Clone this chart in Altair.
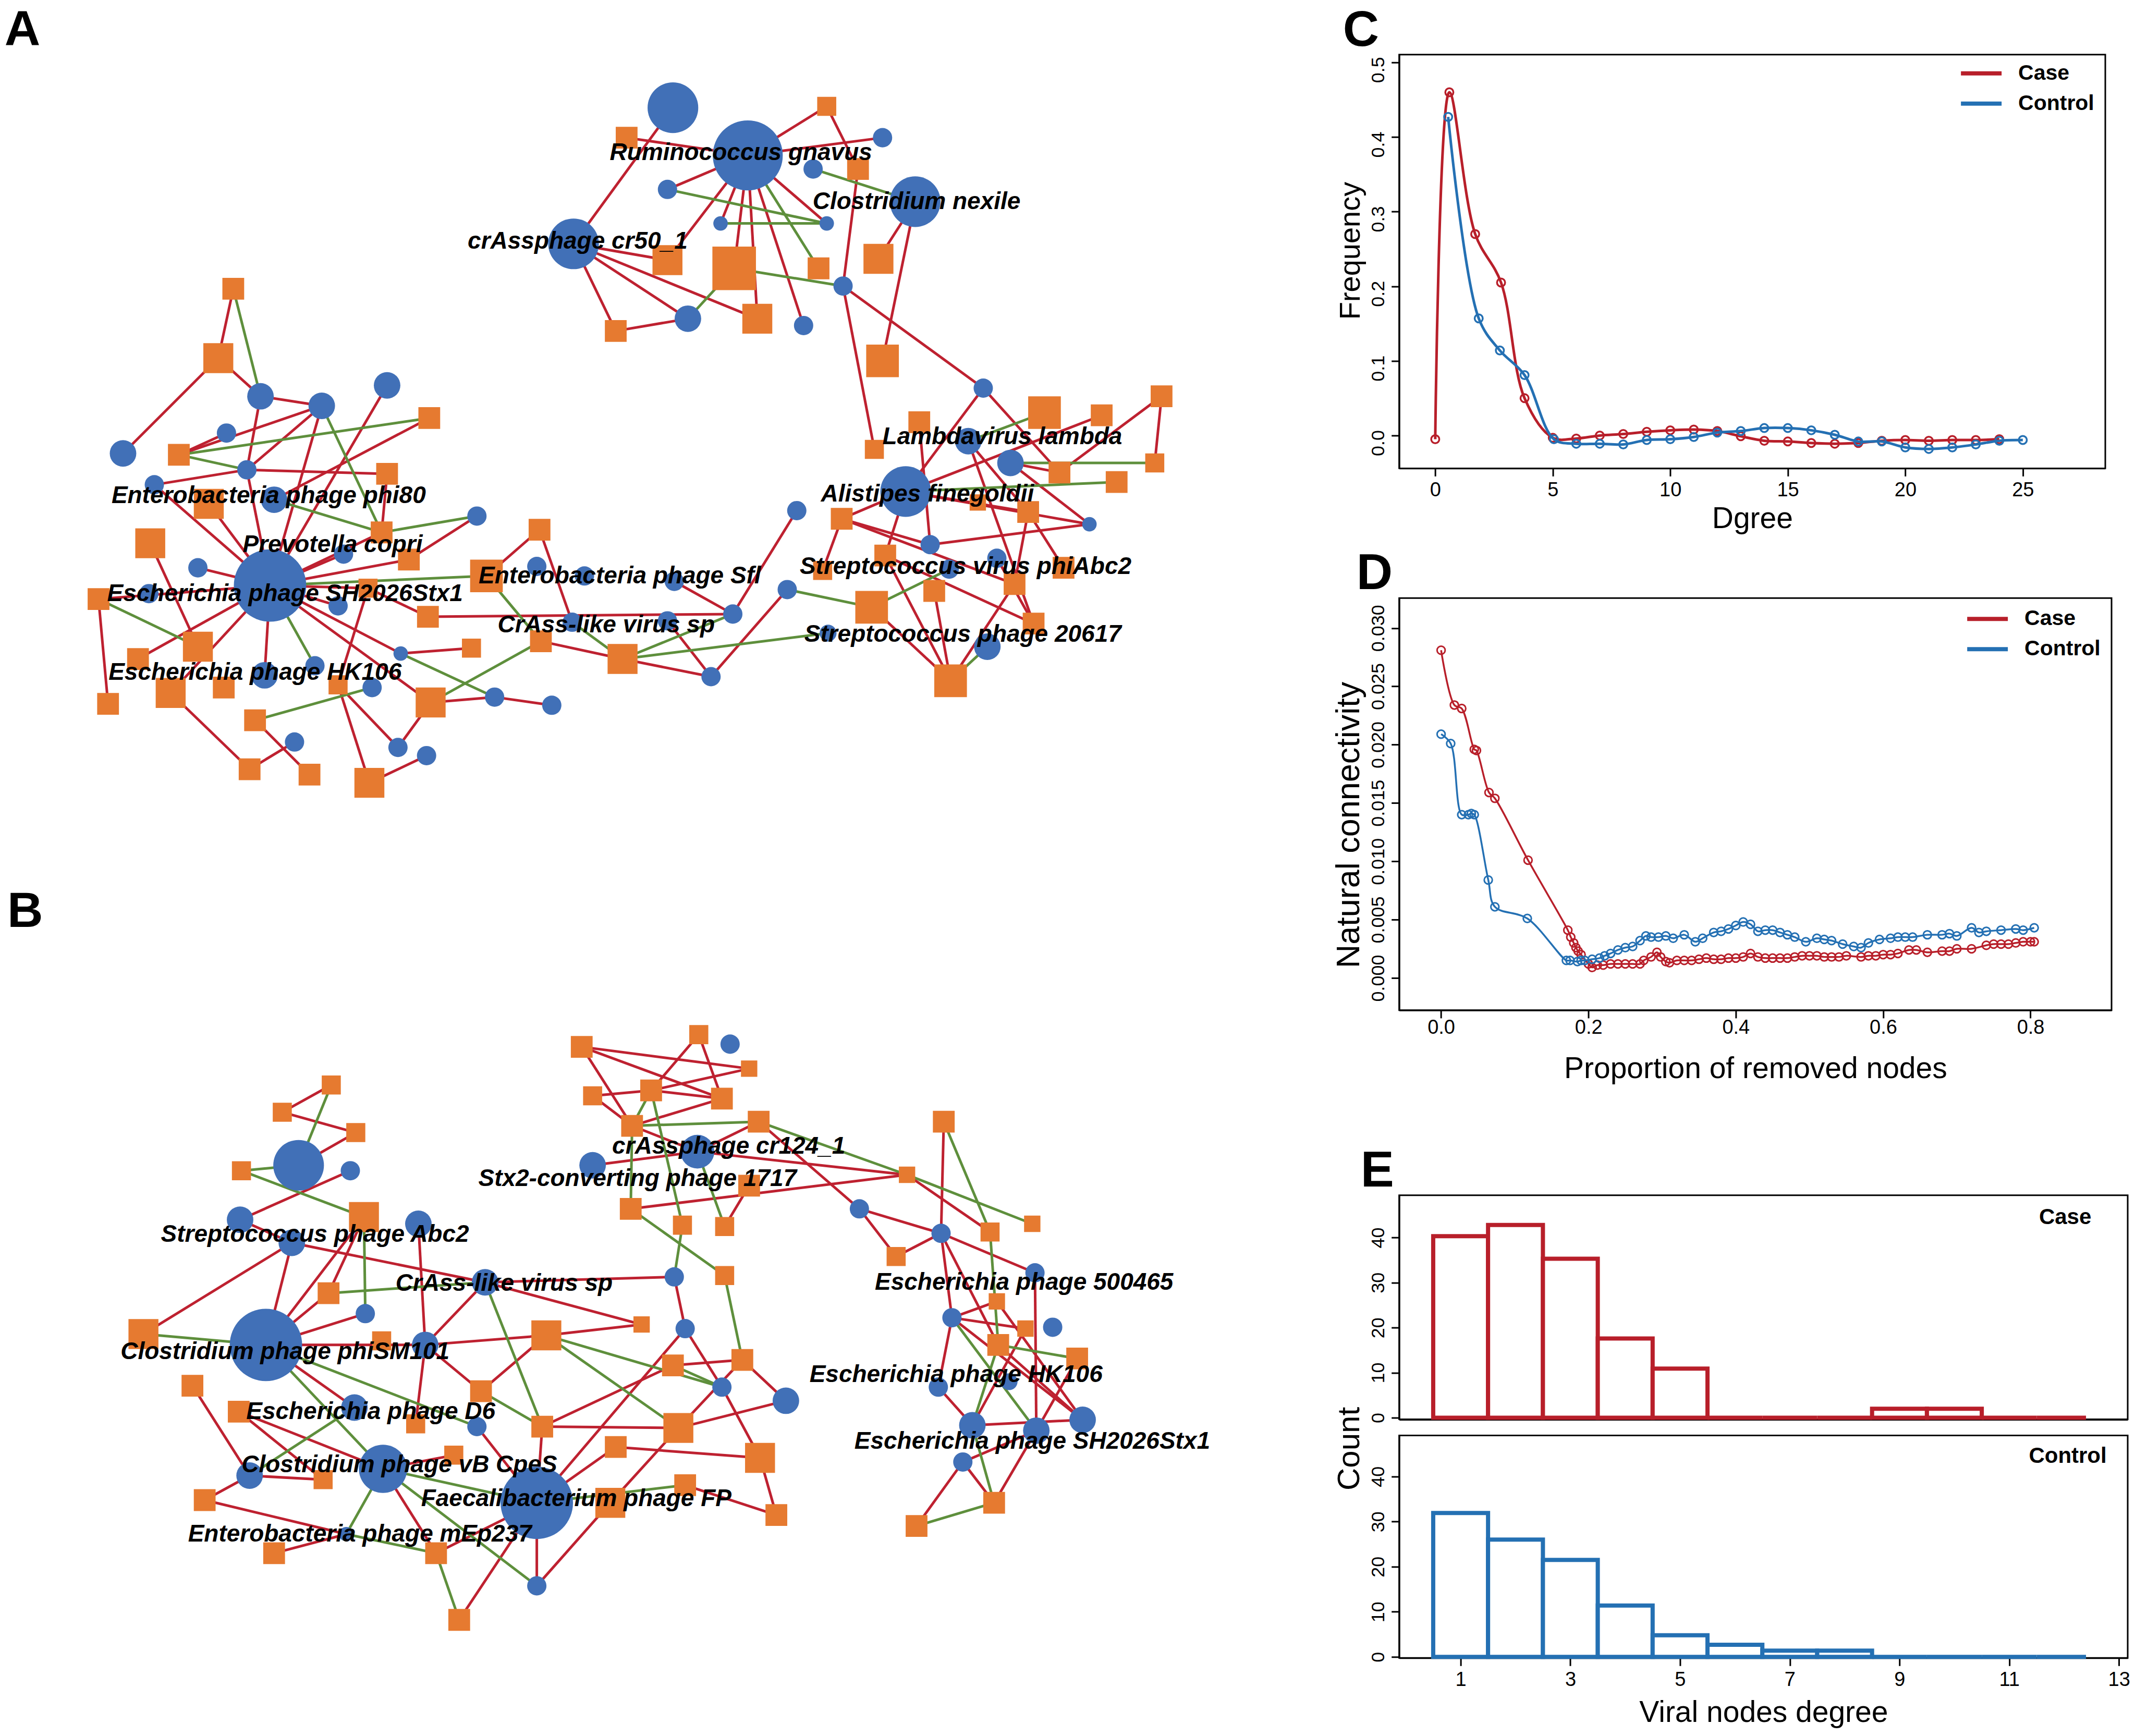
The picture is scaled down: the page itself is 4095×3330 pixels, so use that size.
import altair as alt
import pandas as pd

# ---------- network nodes: (id, x, y, weight) ----------
blue_nodes = [
 ("a1",494,80,21),("a2",549,115,29),("a3",648,102,8),("a4",490,140,8),("a5",597,125,8),("a6",672,149,21),
 ("a7",529,165,6),("a8",607,165,6),("a9",421,180,21),("a10",619,211,8),("a11",505,235,11),("a12",590,240,8),
 ("r1",722,286,8),("r2",711,325,11),("r3",742,341,11),("r4",665,362,21),("r5",800,386,6),("r6",683,401,8),
 ("r7",732,411,8),("r8",697,419,8),("r9",578,434,8),("r10",585,376,8),("r11",608,466,7),("r12",725,476,11),
 ("r13",538,452,8),("r14",522,498,8),
 ("c1",394,417,8),("c2",429,424,8),("c3",495,428,8),("c4",420,458,8),("c5",490,457,8),("c6",294,481,6),("c7",363,513,8),("c8",405,519,8),
 ("l1",284,284,11),("l2",191,292,11),("l3",236,299,11),("l4",166,319,8),("l5",90,334,11),("l6",181,346,8),("l7",113,357,8),
 ("l8",201,368,11),("l9",350,380,8),("l10",252,408,8),("l11",145,418,8),("l12",198,431,30),("l13",109,437,8),("l14",248,446,8),
 ("l15",231,490,8),("l16",194,497,11),("l17",273,506,8),("l18",216,546,8),("l19",292,550,8),("l20",313,556,8),
 ("b1",536,768,8),("b2",512,847,14),("b3",435,857,11),("b4",219,857,21),("b5",257,861,8),("b6",176,897,11),("b7",307,900,11),
 ("b8",214,914,11),("b9",631,889,8),("b10",691,907,8),("b11",760,936,8),("b12",356,943,11),("b13",495,939,8),("b14",268,966,8),
 ("b15",503,977,8),("b16",699,969,8),("b17",773,976,8),("b18",195,989,30),("b19",312,989,11),("b20",530,1020,8),("b21",577,1030,11),
 ("b22",260,1035,11),("b23",350,1049,8),("b24",689,1020,8),("b25",741,1016,7),("b26",714,1048,11),("b27",761,1052,11),("b28",795,1044,11),
 ("b29",707,1075,8),("b30",281,1080,20),("b31",183,1085,11),("b32",394,1105,30),("b33",254,1128,6),("b34",394,1166,8),
]
orange_nodes = [
 ("o1",607,79,7),("o2",460,102,8),("o3",630,125,8),("o4",490,192,11),("o5",539,198,16),("o6",601,198,8),("o7",645,191,11),
 ("o8",452,244,8),("o9",556,235,11),("o10",648,266,12),
 ("q1",767,304,12),("q2",809,306,8),("q3",853,292,8),("q4",675,311,8),("q5",642,331,7),("q6",848,341,7),("q7",820,355,8),
 ("q8",778,348,8),("q9",755,377,8),("q10",618,382,8),("q11",718,370,6),("q12",650,409,8),("q13",604,420,7),("q14",745,430,8),
 ("q15",781,418,8),("q16",640,447,12),("q17",686,435,8),("q18",759,459,8),("q19",698,501,12),("q20",457,485,11),("q21",397,472,8),
 ("q22",396,390,8),("q23",357,424,12),("q24",314,454,8),("q25",346,477,7),("q26",316,517,11),
 ("s1",171,213,8),("s2",160,264,11),("s3",315,308,8),("s4",131,335,8),("s5",284,349,8),("s6",153,371,11),("s7",280,392,8),
 ("s8",110,400,11),("s9",300,412,8),("s10",270,433,7),("s11",72,441,8),("s12",145,476,11),("s13",101,485,8),("s14",164,506,8),
 ("s15",125,510,11),("s16",79,518,8),("s17",248,504,7),("s18",187,530,8),("s19",183,566,8),("s20",227,570,8),("s21",271,576,11),
 ("p1",513,761,7),("p2",427,770,8),("p3",550,786,6),("p4",243,798,7),("p5",435,806,7),("p6",478,802,8),("p7",530,808,8),
 ("p8",207,818,7),("p9",261,833,7),("p10",464,828,8),("p11",557,825,8),("p12",693,825,8),("p13",177,861,7),("p14",666,864,6),
 ("p15",550,872,8),("p16",267,895,11),("p17",463,889,8),("p18",501,901,7),("p19",532,902,7),("p20",758,900,6),("p21",727,906,7),
 ("p22",658,924,7),("p23",532,938,7),("p24",241,951,8),("p25",732,957,6),("p26",471,974,6),("p27",753,977,6),("p28",105,981,11),
 ("p29",401,982,11),("p30",280,986,7),("p31",733,989,8),("p32",545,1000,8),("p33",494,1004,8),("p34",791,999,8),("p35",353,1023,8),
 ("p36",141,1019,8),("p37",175,1038,8),("p38",305,1047,7),("p39",398,1049,8),("p40",498,1050,11),("p41",452,1064,8),("p42",558,1072,11),
 ("p43",333,1070,7),("p44",237,1088,7),("p45",448,1105,11),("p46",503,1092,8),("p47",150,1103,8),("p48",570,1114,8),("p49",730,1105,8),
 ("p50",673,1122,8),("p51",201,1142,8),("p52",320,1142,8),("p53",337,1191,8),
]
red_edges = """a9-a1 a2-o1 a2-a3 a2-o2 a2-a4 a2-o4 a2-o5 a2-o9 a2-a12 a2-a7 a2-a8 o1-o3 a6-o7 a6-o10 o3-a10 a9-o4 a9-a11 a9-o9 a9-o8 o8-a11
a10-r1 a10-q5 r1-r4 r1-q8 q2-r4 q3-q8 q3-q6 r3-q8 r4-r5 r4-q10 r4-q9 r4-q12 r2-q9 q10-r6 r6-r5 q9-q15 q16-q19 q12-q19 q13-q10 q14-q19
q17-q19 q9-q14 q18-r7 q4-r6 q10-q14 r2-q18 q12-q18 r3-r5 r14-c5 r14-r9 r13-r10 r13-c3 q20-q21 q20-r14 q24-r13 q23-q22 q22-c4 c7-c8 c6-q25 q26-c7
s1-s2 s2-l5 s2-l2 l2-l3 l3-s4 l4-s4 l2-l6 l3-l6 l6-s5 l6-l7 s3-l8 l1-l12 l3-l12 l6-l12 l7-l12 s6-l12 s8-s12 l9-s9 s7-s5 l12-s9
l12-s7 l11-l12 l12-s11 s11-s16 l12-s13 l12-s15 l12-l16 l12-q26 l12-l14 s10-s17 l12-s10 s10-q24 s17-s21 s17-l19 s18-s20 s19-l18 s15-s19 s21-l20 q26-l19 l12-l10 c6-l12
p2-p3 p2-p10 p2-p7 p1-p6 p1-p7 p5-p6 p5-p10 p6-p3 p6-p7 p10-p7 p11-b2 p10-b2 b2-p14 b3-b2 p17-p14 p15-p19 p11-b9 b9-b10 b9-p22 p22-b10
p12-b10 p14-p21 b10-b11 b10-b16 b10-p31 b16-p25 b16-p27 b11-b27 p34-b27 b28-p31 b16-b24 b16-b28 p27-b26 b28-b26 b29-p50 b29-p49 b27-p49 b29-b27 b28-p25 b24-b26
p4-p8 p8-p9 p9-b4 b5-b6 b6-b8 b8-b12 b8-b18 b8-p28 p16-b18 p16-p24 b7-b19 b14-b18 p24-b18 b18-b19 b12-b13 b12-b19 b12-p26 b19-p35 b19-p38 b19-p29
p29-p26 p29-p35 p33-p39 p33-p32 b21-p40 b21-p32 p39-p40 b32-p39 b15-b32 b15-b13 b15-b20 b20-p42 p41-b32 p41-p42 p42-p48 p46-p48 p40-p45 p45-b34 b32-b34 b30-p43
b30-p52 b18-b22 b23-b32 b31-p44 b31-p47 p47-b33 p36-b31 p37-b30 p37-p44 b33-p51 p52-b32 p53-b32 p32-p40""".split()
green_edges = """a4-a8 a7-a8 a5-a6 a2-o6 o5-a10 o5-a11 q1-r2 q6-r3 r4-q7 r12-q19 q16-r9 q16-r8 q20-r13 q20-r11 q20-c4 q23-q21 q23-l12 c6-c7 q26-q21 s18-l17
s1-l2 s4-s3 s4-l6 l3-s7 l8-s7 l9-s7 s11-s12 l12-l15
p6-p10 p6-p18 p10-p11 p11-p14 b2-p19 p10-p17 p17-p23 p18-b13 p12-p21 p14-p20 p21-p31 p31-p34 b16-b27 p31-b26 p49-p50 b26-p49 p23-p32
p4-b4 p13-b4 p13-p16 p24-b12 p16-b14 p28-b18 p29-p40 p29-b20 p33-b20 p35-p39 b12-p39 p46-b32 b30-b32 b30-b33 b18-b30 b18-b23 b22-b31 b33-p52 p52-p53 b30-b34""".split()
node_labels = [
 ("Ruminococcus gnavus",544,113),("Clostridium nexile",673,149),("crAssphage cr50_1",424,178),("Lambdavirus lambda",736,322),
 ("Enterobacteria phage phi80",197,365),("Alistipes finegoldii",681,364),("Prevotella copri",244,401),("Streptococcus virus phiAbc2",709,417),
 ("Enterobacteria phage Sfl",455,424),("Escherichia phage SH2026Stx1",209,437),("CrAss-like virus sp",445,460),("Streptococcus phage 20617",707,467),
 ("Escherichia phage HK106",187,495),
 ("crAssphage cr124_1",535,843),("Stx2-converting phage 1717",468,867),("Streptococcus phage Abc2",231,908),("CrAss-like virus sp",370,944),
 ("Escherichia phage 500465",752,943),("Clostridium phage phiSM101",209,994),("Escherichia phage HK106",702,1011),("Escherichia phage D6",272,1038),
 ("Escherichia phage SH2026Stx1",758,1060),("Clostridium phage vB CpeS",293,1077),("Faecalibacterium phage FP",423,1102),("Enterobacteria phage mEp237",264,1128),
]
panel_letters = [("A",3,34),("B",5,682)]

# ---------- panel C ----------
c_case_x = [0,0.6,1.7,2.8,3.8,5,6,7,8,9,10,11,12,13,14,15,16,17,18,19,20,21,22,23,24]
c_case_y = [-0.005,0.46,0.27,0.205,0.05,-0.003,-0.004,0,0.002,0.005,0.007,0.008,0.006,-0.001,-0.007,-0.008,-0.01,-0.011,-0.01,-0.007,-0.006,-0.007,-0.006,-0.006,-0.005]
c_ctrl_x = [0.55,1.85,2.75,3.8,5.05,6,7,8,9,10,11,12,13,14,15,16,17,18,19,20,21,22,23,24,25]
c_ctrl_y = [0.427,0.157,0.114,0.081,-0.005,-0.011,-0.011,-0.012,-0.006,-0.005,-0.002,0.004,0.006,0.01,0.01,0.007,0.001,-0.008,-0.008,-0.016,-0.018,-0.016,-0.012,-0.007,-0.006]

# ---------- panel D ----------
d_case_x = [0,.018,.028,.045,.048,.065,.073,.118,.172,.176,.18,.183,.186,.19,.2,.205,.212,.22,.23,.24,.25,.26,.27,.275,.285,.293,.298,.305,.31,.32,.33,.34,.35,.36,.37,.38,.39,.4,.41,.42,.43,.44,.45,.46,.47,.48,.49,.5,.51,.52,.53,.54,.55,.57,.58,.59,.6,.61,.62,.635,.645,.66,.68,.69,.7,.72,.74,.75,.76,.77,.78,.79,.8,.805]
d_case_y = [.0281,.0234,.0231,.0196,.0195,.0159,.0154,.0101,.0041,.0035,.0030,.0026,.0023,.0020,.0012,.0009,.0011,.0011,.0012,.0012,.0012,.0012,.0012,.0015,.0018,.0022,.0018,.0014,.0013,.0015,.0015,.0015,.0016,.0017,.0016,.0016,.0017,.0017,.0018,.0021,.0018,.0017,.0017,.0017,.0017,.0018,.0019,.0019,.0019,.0018,.0018,.0018,.0019,.0018,.0019,.0019,.0020,.0020,.0021,.0024,.0024,.0022,.0023,.0023,.0025,.0025,.0028,.0029,.0029,.0029,.0030,.0031,.0031,.0031]
d_ctrl_x = [0,.013,.028,.037,.041,.045,.064,.073,.117,.17,.175,.185,.19,.195,.205,.215,.222,.23,.24,.25,.26,.27,.278,.285,.295,.305,.315,.33,.345,.355,.37,.38,.39,.4,.41,.42,.43,.44,.45,.46,.47,.48,.495,.51,.52,.53,.545,.56,.57,.58,.595,.61,.62,.63,.64,.66,.68,.69,.7,.72,.73,.74,.76,.78,.79,.805]
d_ctrl_y = [.0209,.0201,.014,.014,.0141,.014,.0084,.0061,.0051,.0015,.0015,.0014,.0015,.0015,.0016,.0017,.0019,.0021,.0024,.0026,.0027,.0032,.0036,.0035,.0035,.0036,.0034,.0037,.0031,.0034,.0039,.0040,.0042,.0045,.0048,.0046,.0040,.0041,.0041,.0039,.0037,.0035,.0031,.0034,.0033,.0032,.0029,.0027,.0026,.0030,.0033,.0034,.0035,.0035,.0035,.0037,.0037,.0038,.0036,.0043,.0039,.0040,.0041,.0042,.0041,.0043]

# ---------- panel E ----------
e_lo = [.5,1.5,2.5,3.5,4.5,5.5,6.5,7.5,8.5,9.5,10.5,11.5]
e_hi = [1.5,2.5,3.5,4.5,5.5,6.5,7.5,8.5,9.5,10.5,11.5,12.4]
e_case = [40.3,42.8,35.3,17.6,10.9,0,0,0,2,2,0,0]
e_ctrl = [31.9,26,21.5,11.4,4.8,2.7,1.4,1.4,0,0,0,0]
series_names = ["Case", "Control"]

BLUE, ORANGE, RED, GREEN = "#4170B7", "#E67A30", "#BE2130", "#5E8F3C"
CASE, CTRL = "#B81F2A", "#2470B3"
SERIES_COLORS = [CASE, CTRL]
FONT = "Liberation Sans"
LETTER = dict(font=FONT, fontSize=96, fontWeight="bold", anchor="start", offset=-3, frame="group")
FRAME = alt.ViewBackground(stroke="black", strokeWidth=3)

# ---------- panels A and B share one network scale ----------
pos = {n[0]: (n[1], n[2]) for n in blue_nodes + orange_nodes}


def edge_frame(edges):
    rows = []
    for e in edges:
        a, b = e.split("-")
        rows.append(dict(x=pos[a][0], y=pos[a][1], x2=pos[b][0], y2=pos[b][1]))
    return pd.DataFrame(rows)


blue_df = pd.DataFrame(blue_nodes, columns=["id", "x", "y", "w"])
orange_df = pd.DataFrame(orange_nodes, columns=["id", "x", "y", "w"])
label_df = pd.DataFrame(node_labels, columns=["t", "x", "y"])
letter_df = pd.DataFrame(panel_letters, columns=["t", "x", "y"])

NET_W, NET_H = 2465, 3215
NX = alt.Scale(domain=[3.06, 946.8], nice=False, zero=False)
NY = alt.Scale(domain=[1271.8, 40.96], nice=False, zero=False)
nx = alt.X("x:Q", scale=NX, axis=None)
ny = alt.Y("y:Q", scale=NY, axis=None)

net = alt.layer(
    alt.Chart(edge_frame(red_edges)).mark_rule(strokeWidth=5, color=RED).encode(x=nx, y=ny, x2="x2:Q", y2="y2:Q"),
    alt.Chart(edge_frame(green_edges)).mark_rule(strokeWidth=5, color=GREEN).encode(x=nx, y=ny, x2="x2:Q", y2="y2:Q"),
    alt.Chart(blue_df).mark_circle(color=BLUE, opacity=1).encode(
        x=nx, y=ny,
        size=alt.Size("w:Q", legend=None, scale=alt.Scale(type="pow", exponent=2, domain=[0, 30], range=[0, 19292]))),
    alt.Chart(orange_df).mark_square(color=ORANGE, opacity=1).encode(
        x=nx, y=ny,
        size=alt.Size("w:Q", legend=None, scale=alt.Scale(type="pow", exponent=2, domain=[0, 30], range=[0, 24563]))),
    alt.Chart(label_df).mark_text(font=FONT, fontSize=46, fontWeight="bold", fontStyle="italic", color="black").encode(
        x=nx, y=ny, text="t:N"),
    alt.Chart(letter_df).mark_text(font=FONT, fontSize=95, fontWeight="bold", color="black", align="left", baseline="alphabetic").encode(
        x=nx, y=ny, text="t:N"),
).resolve_scale(size="independent").properties(width=NET_W, height=NET_H)


def x_axis(title, values, fmt=None, pad=8, tpad=16, tsize=57):
    kw = dict(title=title, values=values, ticks=True, tickSize=15, tickWidth=3, tickColor="black",
              domainColor="black", domainWidth=3, grid=False, labelFont=FONT, labelFontSize=38, labelColor="black",
              labelPadding=pad, titleFont=FONT, titleFontSize=tsize, titleFontWeight="normal", titleColor="black",
              titlePadding=tpad, labelFlush=False, labelOverlap=False)
    if fmt:
        kw["format"] = fmt
    return alt.Axis(**kw)


def y_axis(title, values, fmt=None, title_y=None, title_size=56, label_offset=0):
    kw = dict(title=title, values=values, tickSize=15, tickWidth=3, tickColor="black", domainColor="black", domainWidth=3,
              grid=False, labelFont=FONT, labelFontSize=36, labelColor="black", labelAngle=270, labelAlign="center",
              labelBaseline="bottom", labelPadding=6, labelOffset=label_offset, titleFont=FONT, titleFontSize=title_size,
              titleFontWeight="normal", titleColor="black", titleX=-64, labelOverlap=False)
    if fmt:
        kw["format"] = fmt
    if title_y is not None:
        kw["titleY"] = title_y
    return alt.Axis(**kw)


def curves(xa, ya, xb, yb, xdom, ydom, w, h, xax, yax, lw, ptw, letter, ldx, lx, ly):
    X = alt.X("x:Q", scale=alt.Scale(domain=xdom, nice=False, zero=False), axis=xax)
    Y = alt.Y("y:Q", scale=alt.Scale(domain=ydom, nice=False, zero=False), axis=yax)
    layers = []
    for (xs, ys, col) in ((xa, ya, CASE), (xb, yb, CTRL)):
        df = pd.DataFrame(dict(x=xs, y=ys))
        layers.append(alt.Chart(df).mark_line(strokeWidth=lw, interpolate="catmull-rom", color=col).encode(x=X, y=Y))
        layers.append(alt.Chart(df).mark_point(filled=False, size=240, strokeWidth=ptw, opacity=1, color=col).encode(x=X, y=Y))
    for i, (name, col) in enumerate(zip(series_names, SERIES_COLORS)):
        row = pd.DataFrame(dict(g=[name]))
        layers.append(alt.Chart(row).mark_rule(strokeWidth=8, color=col).encode(
            x=alt.value(lx), x2=alt.value(lx + 78), y=alt.value(ly + i * 58)))
        layers.append(alt.Chart(row).mark_text(font=FONT, fontSize=41, fontWeight="bold", color="black", align="left").encode(
            x=alt.value(lx + 110), y=alt.value(ly + i * 58), text="g:N"))
    return alt.layer(*layers).properties(width=w, height=h, view=FRAME, title=alt.TitleParams(letter, dx=ldx, **LETTER))


chart_c = curves(c_case_x, c_case_y, c_ctrl_x, c_ctrl_y, [-1.534, 28.51], [-0.044, 0.5105], 1355, 794,
                 x_axis("Dgree", [0, 5, 10, 15, 20, 25], tpad=8),
                 y_axis("Frequency", [0, .1, .2, .3, .4, .5], ".1f", title_y=376, label_offset=14),
                 5, 3.5, "C", -108, 1078, 36)
chart_d = curves(d_case_x, d_case_y, d_ctrl_x, d_ctrl_y, [-0.0569, 0.910], [-0.00277, 0.03257], 1367, 791,
                 x_axis("Proportion of removed nodes", [0, .2, .4, .6, .8], fmt=".1f", pad=0, tpad=32),
                 y_axis("Natural connectivity", [0, .005, .01, .015, .02, .025, .03], ".3f", title_y=435, title_size=63),
                 3.5, 3, "D", -82, 1090, 40)


def bars(counts, color, ydom, h, xax, yax, tag, tx, ty, title=None):
    df = pd.DataFrame(dict(lo=e_lo, hi=e_hi, n=counts, base=[0] * len(counts)))
    X = alt.X("lo:Q", scale=alt.Scale(domain=[-0.12, 13.16], nice=False, zero=False), axis=xax)
    Y = alt.Y("n:Q", scale=alt.Scale(domain=ydom, nice=False, zero=False), axis=yax)
    b = alt.Chart(df).mark_bar(fill="white", stroke=color, strokeWidth=8).encode(x=X, x2="hi:Q", y=Y, y2="base:Q")
    t = alt.Chart(pd.DataFrame(dict(t=[tag]))).mark_text(
        font=FONT, fontSize=42, fontWeight="bold", color="black").encode(x=alt.value(tx), y=alt.value(ty), text="t:N")
    p = dict(width=1398, height=h, view=FRAME)
    if title:
        p["title"] = alt.TitleParams(title, dx=-74, **LETTER)
    return alt.layer(b, t).properties(**p)


e_top_axis = alt.Axis(title=None, values=[1, 3, 5, 7, 9, 11, 13], labels=False, ticks=False, domainColor="black", domainWidth=4, grid=False)
chart_e1 = bars(e_case, CASE, [-0.35, 49.4], 430, e_top_axis,
                y_axis("Count", [0, 10, 20, 30, 40], title_y=486, title_size=60), "Case", 1278, 42, title="E")
chart_e2 = bars(e_ctrl, CTRL, [-0.23, 49.1], 427,
                x_axis("Viral nodes degree", [1, 3, 5, 7, 9, 11, 13]),
                y_axis("", [0, 10, 20, 30, 40]), "Control", 1283, 40)

col_e = alt.vconcat(chart_e1, chart_e2, spacing=31, bounds="flush")
col_cd = alt.vconcat(chart_c, chart_d, spacing=26)
right = alt.vconcat(col_cd, col_e, spacing=116)
chart = alt.hconcat(net, right, spacing=82).properties(padding=0, background="white").configure_view(stroke=None)
chart.save("out.html", embed_options={"renderer": "svg", "actions": False})
